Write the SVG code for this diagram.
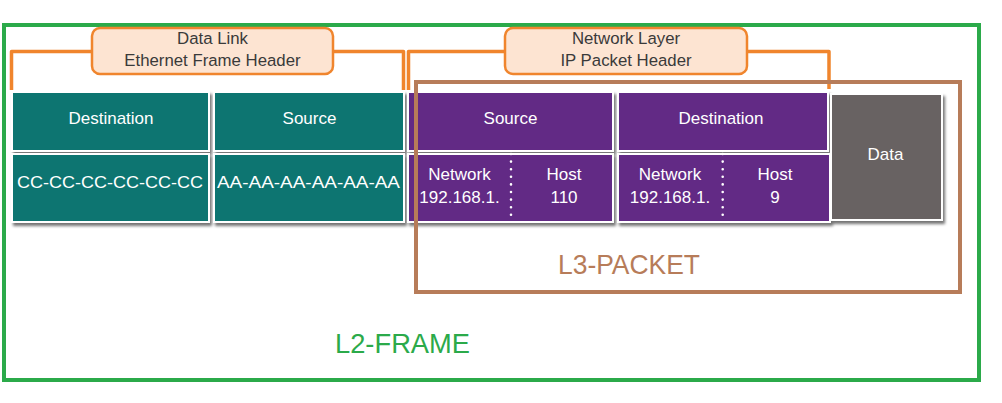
<svg xmlns="http://www.w3.org/2000/svg" width="1002" height="403" viewBox="0 0 1002 403">
<defs>
<filter id="sh" x="-5%" y="-10%" width="110%" height="130%">
<feDropShadow dx="2" dy="3" stdDeviation="1.5" flood-color="#000" flood-opacity="0.55"/>
</filter>
<style>
.br{fill:none;stroke:#F0852D;stroke-width:3.5;stroke-linejoin:round}
.lbl{fill:#FDE4D2;stroke:#F0852D;stroke-width:2.5}
.lt{font-family:"Liberation Sans",Arial,sans-serif;font-size:16.8px;fill:#3a3a3a;text-anchor:middle}
.teal{fill:#0A7571;stroke:#fff;stroke-width:2}
.pur{fill:#622A85;stroke:#fff;stroke-width:2}
.dat{fill:#676262;stroke:#fff;stroke-width:2}
.ct{font-family:"Liberation Sans",Arial,sans-serif;font-size:17px;fill:#fff;text-anchor:middle}
.dot{stroke:#fff;stroke-width:2.6;stroke-linecap:round;stroke-dasharray:0 7.6}
</style>
</defs>
<rect width="1002" height="403" fill="#fff"/>
<g id="l2-frame">
<rect x="4" y="25" width="975" height="355" fill="none" stroke="#2BAA4A" stroke-width="4"/>
<text x="335" y="353" font-family="Liberation Sans,Arial,sans-serif" font-size="28" fill="#2BAA4A" textLength="135" lengthAdjust="spacingAndGlyphs">L2-FRAME</text>
</g>
<g id="connectors">
<path class="br" d="M11.5 90 V51.5 H403.5 V90"/>
<path class="br" d="M408.5 90 V51.5 H829 V89"/>
</g>
<g id="label-datalink">
<rect class="lbl" x="92" y="28" width="241" height="46" rx="8"/>
<text class="lt" x="212.5" y="44">Data Link</text>
<text class="lt" x="212.5" y="65.5">Ethernet Frame Header</text>
</g>
<g id="label-network">
<rect class="lbl" x="505" y="28" width="242" height="46" rx="8"/>
<text class="lt" x="626" y="44">Network Layer</text>
<text class="lt" x="626" y="65.5">IP Packet Header</text>
</g>
<g id="table" filter="url(#sh)">
<g id="eth-dest">
<rect class="teal" x="12" y="92" width="197" height="59"/>
<rect class="teal" x="12" y="154" width="197" height="68"/>
</g>
<g id="eth-src">
<rect class="teal" x="214" y="92" width="190" height="59"/>
<rect class="teal" x="214" y="154" width="190" height="68"/>
</g>
<g id="ip-src">
<rect class="pur" x="408" y="92" width="205" height="59"/>
<rect class="pur" x="408" y="154" width="205" height="68"/>
</g>
<g id="ip-dest">
<rect class="pur" x="618" y="92" width="210" height="59"/>
<rect class="pur" x="618" y="154" width="212" height="68"/>
</g>
<g id="data">
<rect class="dat" x="831" y="94" width="111" height="126"/>
</g>
</g>
<g id="cell-text">
<text class="ct" x="111" y="124">Destination</text>
<text class="ct" x="110" y="188" textLength="186" lengthAdjust="spacingAndGlyphs">CC-CC-CC-CC-CC-CC</text>
<text class="ct" x="309.5" y="124">Source</text>
<text class="ct" x="308.5" y="188" textLength="183" lengthAdjust="spacingAndGlyphs">AA-AA-AA-AA-AA-AA</text>
<text class="ct" x="510.5" y="124">Source</text>
<text class="ct" x="459.5" y="180">Network</text>
<text class="ct" x="459.5" y="203">192.168.1.</text>
<text class="ct" x="564" y="180">Host</text>
<text class="ct" x="564" y="203">110</text>
<line class="dot" x1="511" y1="154" x2="511" y2="222"/>
<text class="ct" x="721" y="124">Destination</text>
<text class="ct" x="670" y="180">Network</text>
<text class="ct" x="670" y="203">192.168.1.</text>
<text class="ct" x="775" y="180">Host</text>
<text class="ct" x="775" y="203">9</text>
<line class="dot" x1="722.7" y1="154" x2="722.7" y2="222"/>
<text class="ct" x="885.5" y="160">Data</text>
</g>
<g id="l3-packet">
<rect x="416" y="82" width="544" height="210" fill="none" stroke="#B77C59" stroke-width="4"/>
<text x="558" y="274" font-family="Liberation Sans,Arial,sans-serif" font-size="28" fill="#B77C59" textLength="142" lengthAdjust="spacingAndGlyphs">L3-PACKET</text>
</g>
</svg>
